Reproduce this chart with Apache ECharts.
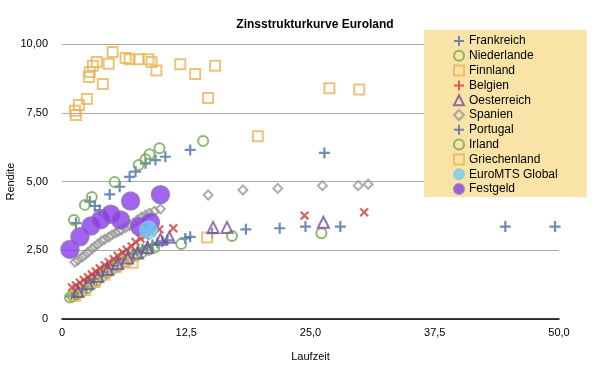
<!DOCTYPE html>
<html>
<head>
<meta charset="utf-8">
<script src="https://cdn.jsdelivr.net/npm/echarts@6/dist/echarts.min.js"></script>
<style>
html,body{margin:0;padding:0;background:#fff;}
#chart{width:603px;height:374px;}
</style>
</head>
<body>
<div id="chart"></div>
<script>
const xTicks = ['0', '12,5', '25,0', '37,5', '50,0'];
const yTicks = ['0', '2,50', '5,00', '7,50', '10,00'];

const frankreich = [[0.9,0.82],[1.2,0.88],[1.6,0.98],[2.0,1.08],[2.4,1.2],[2.8,1.33],[3.2,1.45],[3.7,1.58],[4.1,1.70],[4.6,1.82],[5.1,1.93],[5.6,2.05],[6.1,2.16],[6.6,2.26],[7.1,2.36],[7.6,2.46],[8.1,2.55],[8.6,2.63],[9.1,2.70],[9.6,2.76],[10.1,2.82],[10.6,2.86],[12.4,2.93],[12.9,2.99],[15.1,3.12],[18.5,3.26],[21.9,3.30],[24.5,3.36],[28.0,3.36],[44.6,3.36],[49.6,3.36]];
const niederlande = [[0.8,0.78],[1.1,0.82],[1.5,0.9],[2.0,1.0],[2.5,1.12],[3.0,1.26],[3.5,1.4],[4.0,1.55],[4.5,1.68],[5.0,1.80],[5.6,1.92],[6.2,2.05],[6.8,2.18],[7.4,2.3],[8.0,2.42],[8.7,2.52],[9.3,2.6],[12.0,2.73],[17.1,3.02],[26.1,3.12]];
const finnland = [[1.3,0.85],[2.3,1.05],[3.3,1.35],[4.3,1.62],[5.4,1.88],[6.4,2.1],[7.1,2.05],[14.6,2.96]];
const belgien = [[1.0,1.15],[1.4,1.22],[1.8,1.32],[2.2,1.42],[2.6,1.52],[3.0,1.62],[3.4,1.73],[3.8,1.84],[4.3,1.96],[4.7,2.07],[5.2,2.18],[5.6,2.3],[6.1,2.42],[6.5,2.52],[7.0,2.64],[7.4,2.8],[7.9,2.92],[8.4,3.02],[9.0,3.14],[9.8,3.26],[11.2,3.30],[24.4,3.76],[30.4,3.88]];
const oesterreich = [[1.6,1.0],[2.6,1.28],[3.6,1.55],[4.6,1.8],[5.6,2.02],[6.6,2.22],[7.6,2.4],[8.6,2.6],[9.9,2.9],[10.8,2.97],[15.2,3.33],[16.6,3.33],[26.3,3.52]];
const spanien = [[1.3,2.07],[1.6,2.14],[2.0,2.25],[2.3,2.33],[2.6,2.42],[3.0,2.55],[3.3,2.63],[3.6,2.72],[4.0,2.84],[4.3,2.9],[4.7,2.98],[5.0,3.05],[5.4,3.13],[5.7,3.19],[6.0,3.24],[6.4,3.32],[6.8,3.4],[7.2,3.5],[7.6,3.6],[8.0,3.71],[8.4,3.78],[8.8,3.85],[9.3,3.92],[9.9,4.0],[14.7,4.51],[18.2,4.69],[21.7,4.75],[26.2,4.85],[29.8,4.85],[30.8,4.9]];
const portugal = [[1.4,3.49],[2.8,4.27],[3.3,4.11],[3.8,3.96],[4.8,4.53],[5.8,4.81],[6.8,5.17],[7.4,5.36],[8.4,5.66],[9.4,5.78],[10.4,5.9],[12.9,6.15],[26.4,6.04]];
const irland = [[1.2,3.6],[2.3,4.15],[3.0,4.44],[5.3,4.98],[7.7,5.6],[8.4,5.81],[8.8,5.99],[9.8,6.21],[14.2,6.47]];
const griechenland = [[1.3,7.57],[1.4,7.42],[1.7,7.78],[2.5,8.0],[2.7,8.8],[2.8,8.98],[3.1,9.21],[3.5,9.35],[4.1,8.55],[4.7,9.28],[5.1,9.71],[6.4,9.49],[6.8,9.45],[7.7,9.45],[8.7,9.45],[9.0,9.35],[9.5,9.04],[11.9,9.26],[13.4,8.91],[14.7,8.04],[15.4,9.21],[19.7,6.65],[26.9,8.39],[29.9,8.35]];
const euromts = [[8.7,3.24]];
const festgeld = [[0.8,2.53],[1.8,2.99],[2.9,3.38],[3.9,3.61],[4.9,3.81],[5.9,3.6],[6.9,4.29],[7.8,3.36],[8.9,3.52],[9.9,4.52]];

const PLUS = 'path://M4,0H6V4H10V6H6V10H4V6H0V4H4Z';
const BLUE = '#4A6FA8', GREEN = '#6FA852', ORANGE = '#E8B45A', RED = '#C9403A', PURPLE = '#7B4E9C', GRAY = '#999999';
const hollow = c => ({color: 'rgba(255,255,255,0)', borderColor: c, borderWidth: 2});

function plusSeries(name, data, color, rotate) {
  return {name, type: 'scatter', data, symbol: PLUS, symbolSize: 11, symbolRotate: rotate || 0, itemStyle: {color}};
}
function hollowSeries(name, data, color, symbol, size) {
  return {name, type: 'scatter', data, symbol, symbolSize: size, itemStyle: hollow(color)};
}

const chart = echarts.init(document.getElementById('chart'), null, {renderer: 'canvas'});
const FONT = '"Liberation Sans", Arial, sans-serif';
chart.setOption({
  animation: false,
  textStyle: {fontFamily: FONT},
  title: {text: 'Zinsstrukturkurve Euroland', left: 310, textAlign: 'center', top: 14,
    textStyle: {fontSize: 12, fontWeight: 'bold', color: '#000', fontFamily: FONT}},
  grid: {left: 62, right: 44, top: 44, bottom: 55, containLabel: false, outerBoundsMode: 'none'},
  legend: {
    orient: 'vertical', left: 424, top: 30,
    backgroundColor: '#FAE3A6', padding: [4, 29, 1, 29],
    itemWidth: 10, itemHeight: 10, itemGap: 0.8,
    textStyle: {fontSize: 12, color: '#000', fontFamily: FONT, lineHeight: 14},
    data: ['Frankreich','Niederlande','Finnland','Belgien','Oesterreich','Spanien','Portugal','Irland','Griechenland','EuroMTS Global','Festgeld']
  },
  xAxis: {
    type: 'value', min: 0, max: 50, interval: 12.5,
    name: 'Laufzeit', nameLocation: 'middle', nameGap: 32, nameMoveOverlap: false,
    nameTextStyle: {fontSize: 11, color: '#000'},
    axisLine: {lineStyle: {color: '#000', width: 1.5}},
    axisTick: {show: false},
    axisLabel: {color: '#000', fontSize: 11, margin: 8, formatter: (v) => xTicks[Math.round(v / 12.5)]},
    splitLine: {show: false}
  },
  yAxis: {
    type: 'value', min: 0, max: 10, interval: 2.5,
    name: 'Rendite', nameLocation: 'middle', nameGap: 46, nameMoveOverlap: false,
    nameTextStyle: {fontSize: 11, color: '#000'},
    axisLine: {show: false}, axisTick: {show: false},
    axisLabel: {color: '#000', fontSize: 11, margin: 14, formatter: (v) => yTicks[Math.round(v / 2.5)]},
    splitLine: {lineStyle: {color: '#AAAAAA', width: 1}}
  },
  series: [
    plusSeries('Frankreich', frankreich, BLUE),
    hollowSeries('Niederlande', niederlande, GREEN, 'circle', 10),
    hollowSeries('Finnland', finnland, ORANGE, 'rect', 10),
    plusSeries('Belgien', belgien, RED, 45),
    hollowSeries('Oesterreich', oesterreich, PURPLE, 'triangle', 11),
    hollowSeries('Spanien', spanien, GRAY, 'diamond', 9),
    plusSeries('Portugal', portugal, BLUE),
    hollowSeries('Irland', irland, GREEN, 'circle', 10),
    hollowSeries('Griechenland', griechenland, ORANGE, 'rect', 10),
    {name: 'Festgeld', type: 'scatter', data: festgeld, symbol: 'circle', symbolSize: 18,
      itemStyle: {color: '#8A3CEC', borderColor: '#8E74AE', borderWidth: 1.5}},
    {name: 'EuroMTS Global', type: 'scatter', data: euromts, symbol: 'circle', symbolSize: 18,
      itemStyle: {color: '#6FD0F8', borderColor: '#8FC8E0', borderWidth: 1}}
  ]
});
</script>
</body>
</html>
